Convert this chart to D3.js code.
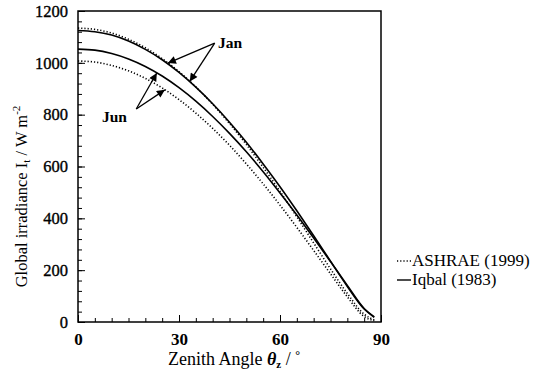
<!DOCTYPE html>
<html>
<head>
<meta charset="utf-8">
<script src="https://cdn.jsdelivr.net/npm/d3@7"></script>
<style>
  html, body { margin: 0; padding: 0; background: #fff; }
  svg { display: block; }
  text { font-family: "Liberation Serif", "Times New Roman", serif; fill: #000; }
</style>
</head>
<body>
<div id="chart"></div>
<script>
// Zenith angles (degrees) at which the irradiance curves are sampled
const angles = [0, 5, 10, 15, 20, 25, 30, 35, 40, 45, 50, 55, 60, 65, 70, 75, 80, 85, 88];

// Global irradiance on a horizontal surface, W m-2
const janIqbal  = [1125, 1120, 1107, 1084, 1052, 1012, 963, 906, 842, 771, 694, 610, 522, 429, 333, 235, 137, 50, 18];
const junIqbal  = [1053, 1049, 1036, 1015, 986, 949, 904, 852, 793, 728, 657, 580, 498, 413, 324, 233, 141, 52, 20];
const janAshrae = [1134, 1129, 1115, 1091, 1058, 1016, 966, 907, 840, 766, 685, 597, 504, 406, 305, 205, 110, 30, 8];
const junAshrae = [1007, 1003, 990, 969, 940, 903, 858, 806, 747, 682, 610, 533, 451, 365, 276, 186, 97, 21, 5];

// Axis ticks
const xTickLabels = [0, 30, 60, 90];
const yTickLabels = [0, 200, 400, 600, 800, 1000, 1200];

// Annotation arrows: label, label anchor and the curve point each arrow points at
const annotations = [
  { text: "Jan", at: [41.6, 1057], from: [40.6, 1076], targets: [[26.7, janIqbal, janAshrae], [33.2, janIqbal, janAshrae]] },
  { text: "Jun", at: [7.1, 772], from: [17.3, 822], targets: [[23.4, junIqbal], [25.8, junAshrae]] }
];

// Legend entries
const legendItems = [
  { label: "ASHRAE (1999)", dash: "1.2,2" },
  { label: "Iqbal (1983)", dash: null }
];

const W = 547, H = 379;
const svg = d3.select("#chart").append("svg").attr("width", W).attr("height", H);

const x = d3.scaleLinear().domain([0, 90]).range([78, 381]);
const y = d3.scaleLinear().domain([0, 1200]).range([322, 11]);

// Frame
svg.append("rect")
  .attr("x", x(0)).attr("y", y(1200))
  .attr("width", x(90) - x(0)).attr("height", y(0) - y(1200))
  .attr("fill", "none").attr("stroke", "#000").attr("stroke-width", 1.5);

// Minor and major ticks drawn inward
const xAxis = svg.append("g").attr("transform", `translate(0,${y(0)})`);
xAxis.call(d3.axisBottom(x).tickValues(d3.range(0, 91, 5)).tickSize(-4).tickFormat(""));
xAxis.call(g => g.select(".domain").remove());
const xLab = svg.append("g").attr("transform", `translate(0,${y(0)})`)
  .call(d3.axisBottom(x).tickValues(xTickLabels).tickSize(-7).tickPadding(11).tickFormat(d3.format("d")));
xLab.select(".domain").remove();
xLab.selectAll("text").attr("font-size", 17).attr("font-weight", "bold");

const yAxis = svg.append("g").attr("transform", `translate(${x(0)},0)`);
yAxis.call(d3.axisLeft(y).tickValues(d3.range(0, 1201, 40)).tickSize(-4).tickFormat(""));
yAxis.call(g => g.select(".domain").remove());
const yLab = svg.append("g").attr("transform", `translate(${x(0)},0)`)
  .call(d3.axisLeft(y).tickValues(yTickLabels).tickSize(-7).tickPadding(10).tickFormat(d3.format("d")));
yLab.select(".domain").remove();
yLab.selectAll("text").attr("font-size", 16.5)
  .attr("stroke", "#000").attr("stroke-width", 0.35);
svg.selectAll(".tick line").attr("stroke", "#000").attr("stroke-width", 1);

// Curves
const line = d3.line().x((d, i) => x(angles[i])).y(d => y(d)).curve(d3.curveMonotoneX);
const series = [
  { values: janAshrae, dash: "1.2,2" },
  { values: junAshrae, dash: "1.2,2" },
  { values: janIqbal, dash: null },
  { values: junIqbal, dash: null }
];
svg.append("g").selectAll("path").data(series).join("path")
  .attr("d", d => line(d.values))
  .attr("fill", "none").attr("stroke", "#000")
  .attr("stroke-width", 1.6)
  .attr("stroke-dasharray", d => d.dash);

// Arrowhead marker
svg.append("defs").append("marker")
  .attr("id", "head").attr("viewBox", "0 0 10 10").attr("refX", 10).attr("refY", 5)
  .attr("markerWidth", 10).attr("markerHeight", 8).attr("markerUnits", "userSpaceOnUse")
  .attr("orient", "auto")
  .append("path").attr("d", "M0,0 L10,5 L0,10 Z").attr("fill", "#000");

// Value of a series at an angle
function valueAt(arr, a) {
  return d3.scaleLinear().domain(angles).range(arr)(a);
}

annotations.forEach(an => {
  svg.append("text")
    .attr("x", x(an.at[0])).attr("y", y(an.at[1]))
    .attr("font-size", 15.5).attr("font-weight", "bold")
    .attr("text-anchor", "start")
    .text(an.text);
  an.targets.forEach(t => {
    const v = d3.max(t.slice(1), arr => valueAt(arr, t[0]));
    svg.append("line")
      .attr("x1", x(an.from[0])).attr("y1", y(an.from[1]))
      .attr("x2", x(t[0])).attr("y2", y(v))
      .attr("stroke", "#000").attr("stroke-width", 1.3)
      .attr("marker-end", "url(#head)");
  });
});

// Axis titles
const yTitle = svg.append("text")
  .attr("transform", `translate(27,${(y(0) + y(1200)) / 2 + 30}) rotate(-90)`)
  .attr("text-anchor", "middle").attr("font-size", 16.5);
yTitle.append("tspan").text("Global irradiance I");
yTitle.append("tspan").attr("font-size", 11).attr("dy", 3).text("t");
yTitle.append("tspan").attr("dy", -3).text(" / W m");
yTitle.append("tspan").attr("font-size", 11).attr("dy", -7).text("-2");

const xTitle = svg.append("text")
  .attr("x", 234).attr("y", 365)
  .attr("text-anchor", "middle").attr("font-size", 18);
xTitle.append("tspan").text("Zenith Angle ");
xTitle.append("tspan").attr("font-style", "italic").attr("font-weight", "bold").text("θ");
xTitle.append("tspan").attr("font-size", 11).attr("dy", 3).attr("font-weight", "bold").text("z");
xTitle.append("tspan").attr("dy", -3).text(" / ");
xTitle.append("tspan").attr("font-size", 12).attr("dy", -6).attr("font-weight", "bold").text("°");

// Legend
const legend = svg.append("g").attr("transform", "translate(397,266)");
legendItems.forEach((item, i) => {
  const g = legend.append("g").attr("transform", `translate(0,${i * 19})`);
  g.append("line").attr("x1", 0).attr("x2", 14).attr("y1", -5).attr("y2", -5)
    .attr("stroke", "#000").attr("stroke-width", 1.4)
    .attr("stroke-dasharray", item.dash);
  g.append("text").attr("x", 15).attr("y", 0).attr("font-size", 17).text(item.label);
});
</script>
</body>
</html>
